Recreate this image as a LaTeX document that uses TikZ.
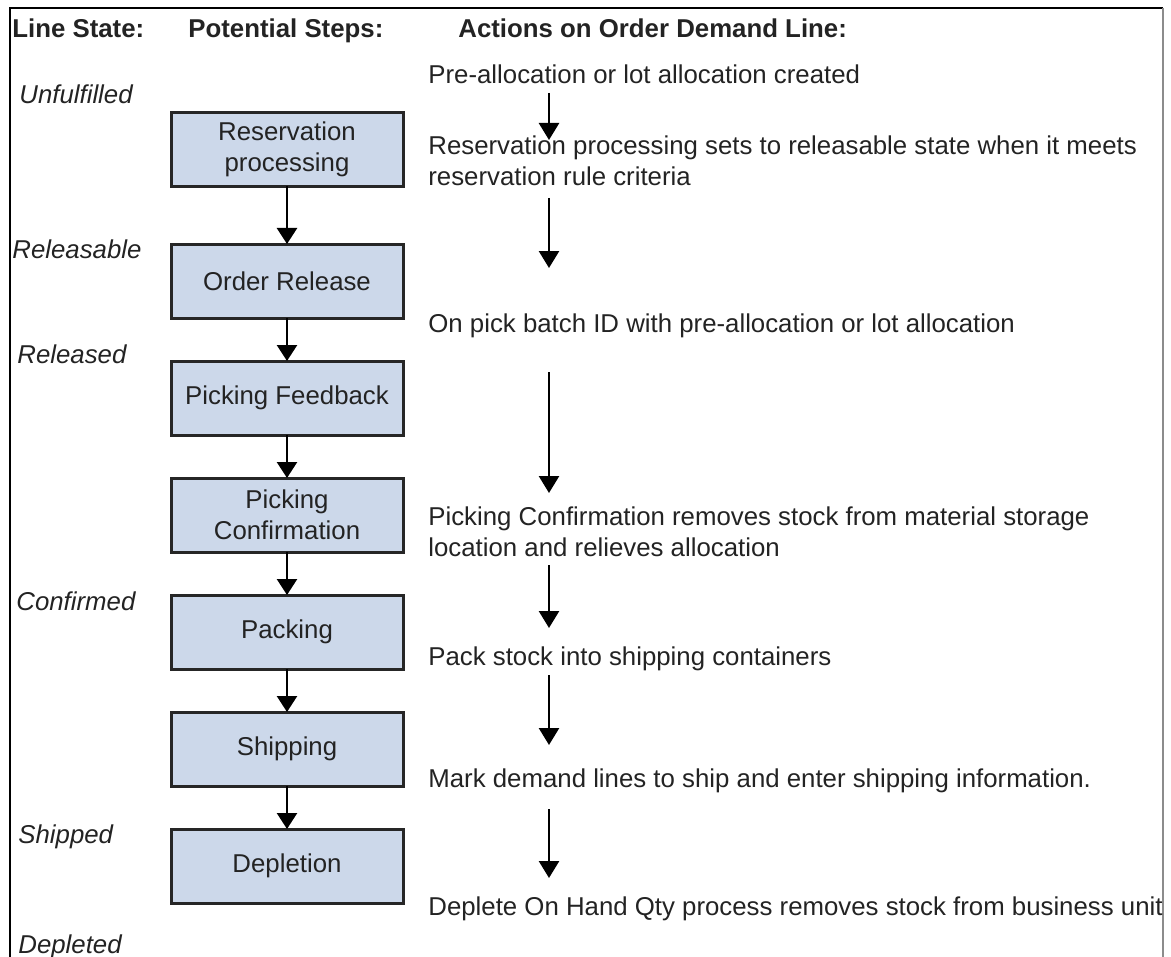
\documentclass[tikz,border=0pt]{standalone}
\usepackage{fontspec}
\setmainfont{Liberation Sans}
\usepackage{tikz}
\usetikzlibrary{arrows.meta}
\usetikzlibrary{chains,positioning}
\usetikzlibrary{shadows}
\definecolor{boxblue}{RGB}{204,216,234}
\definecolor{ink}{RGB}{35,35,35}

\begin{document}
\begin{tikzpicture}[
		x=0.5pt, y=-0.5pt,
		font=\fontsize{12.9}{15.5}\selectfont,
		text=ink,
		node distance=21.5pt,
		start chain = S going below,
		X/.style = {rectangle, draw=black!85, line width=1.5pt,% step boxes
			fill=boxblue, align=center,
			minimum width=116pt, minimum height=37pt,
			inner sep=2pt, outer sep=0pt,
			drop shadow={shadow xshift=0.8pt, shadow yshift=-0.8pt, fill=black!35}},
		head/.style = {anchor=base west, inner sep=0pt, font=\fontsize{12.9}{15.5}\selectfont\bfseries},
		state/.style = {anchor=base west, inner sep=0pt, font=\fontsize{12.9}{15.5}\selectfont\itshape},
		act/.style = {anchor=base west, inner sep=0pt, align=left},% base = last line
		flow/.style = {line width=1.3pt, -{Triangle[width=10pt,length=8pt]}},
		down/.style = {line width=1.3pt, -{Triangle[width=10pt,length=8.5pt]}},
		]
		\useasboundingbox (0,0) rectangle (1171,957);
		% frame, open at the bottom
		\draw[line width=1pt] (9.5,957) |- (1163,8);
		\draw[line width=1pt, black!45] (1163,8) -- (1163,957);
		% headings
		\node[head] (h1) at (12,38) {Line State:};
		\node[head] (h2) at (188,38) {Potential Steps:};
		\node[head] (h3) at (458,38) {Actions on Order Demand Line:};
		% line states
		\node[state] (st1) at (19,104) {Unfulfilled};
		\node[state] (st2) at (12,258) {Releasable};
		\node[state] (st3) at (17,363) {Released};
		\node[state] (st4) at (16,610) {Confirmed};
		\node[state] (st5) at (18,843) {Shipped};
		\node[state] (st6) at (18,953) {Depleted};
		% steps
		\node[X] (R) at (287,149.5) {Reservation\\processing};
		\node[X, on chain] at (287,281) {Order Release};
		\foreach \s in {Picking Feedback,{Picking\\Confirmation},Packing,Shipping,Depletion}
		\node[X, on chain] {\s};
		\foreach \a/\b in {R/S-1,S-1/S-2,S-2/S-3,S-3/S-4,S-4/S-5,S-5/S-6}
		\draw[flow] (\a) -- (\b);
		% actions
		\node[act] (t1) at (428,84) {Pre-allocation or lot allocation created};
		\node[act] (t2) at (428,186) {Reservation processing sets to releasable state when it meets\\reservation rule criteria};
		\node[act] (t3) at (428,332) {On pick batch ID with pre-allocation or lot allocation};
		\node[act] (t4) at (428,556) {Picking Confirmation removes stock from material storage\\location and relieves allocation};
		\node[act] (t5) at (428,665) {Pack stock into shipping containers};
		\node[act] (t6) at (428,787) {Mark demand lines to ship and enter shipping information.};
		\node[act] (t7) at (428,915) {Deplete On Hand Qty process removes stock from business unit};
		\foreach \i/\a/\b in {1/93/140,2/198/268,3/372/493,4/565/628,5/675/745,6/809/878}{
			\coordinate (u\i) at (549,\a);
			\coordinate (v\i) at (549,\b);
			\draw[down] (u\i) -- (v\i);
		}
	\end{tikzpicture}
\end{document}
